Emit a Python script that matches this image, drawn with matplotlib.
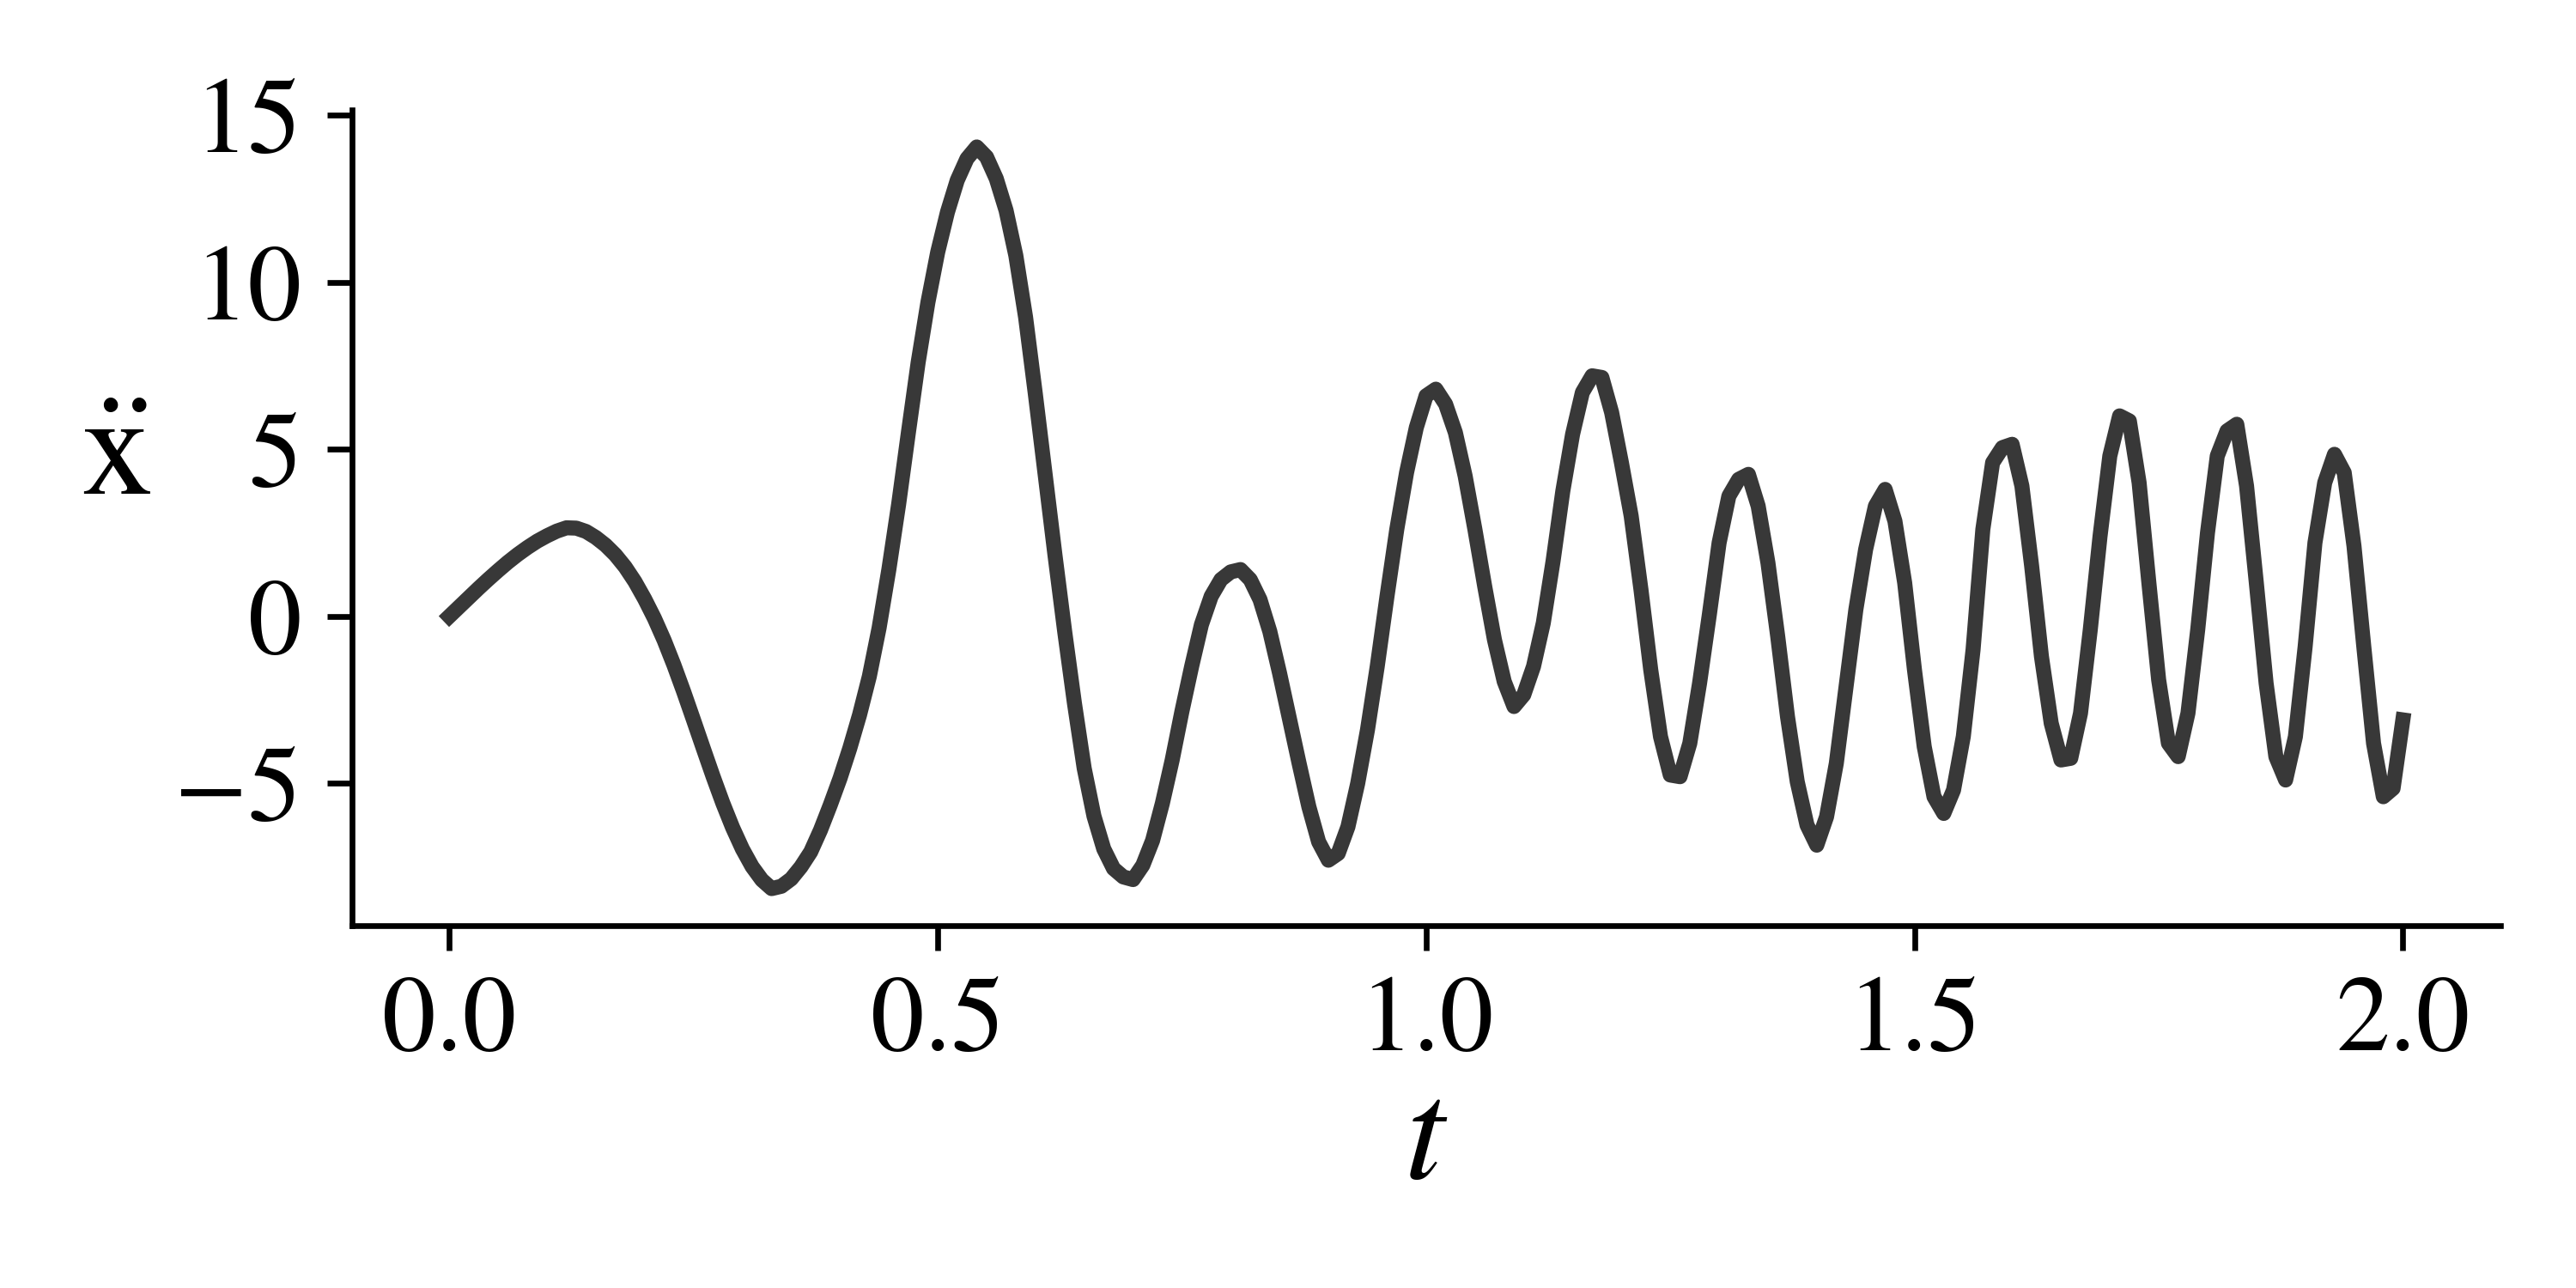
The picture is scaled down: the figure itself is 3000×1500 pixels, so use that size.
import matplotlib
matplotlib.use("Agg")
import matplotlib.pyplot as plt
import numpy as np

# sample spacing of the signal (s)
T_STEP = 0.01

# acceleration samples, t = 0.00 ... 0.49
xdd_a = [0.0, 0.28, 0.56, 0.84, 1.11, 1.37, 1.62, 1.85, 2.06, 2.25,
         2.41, 2.55, 2.65, 2.64, 2.54, 2.36, 2.13, 1.84, 1.48, 1.04,
         0.52, -0.06, -0.72, -1.46, -2.26, -3.1, -3.95, -4.79, -5.59, -6.32,
         -6.96, -7.49, -7.89, -8.15, -8.08, -7.86, -7.5, -7.05, -6.4, -5.65,
         -4.85, -3.95, -2.95, -1.8, -0.35, 1.4, 3.35, 5.5, 7.6, 9.4]
# t = 0.50 ... 0.99
xdd_b = [10.9, 12.1, 13.05, 13.7, 14.05, 13.75, 13.1, 12.15, 10.8, 8.95,
         6.65, 4.25, 1.85, -0.45, -2.6, -4.55, -5.98, -6.96, -7.55, -7.8,
         -7.88, -7.45, -6.71, -5.6, -4.31, -2.85, -1.5, -0.25, 0.6, 1.1,
         1.33, 1.4, 1.1, 0.5, -0.45, -1.7, -3.05, -4.4, -5.7, -6.75,
         -7.3, -7.1, -6.3, -5.0, -3.4, -1.5, 0.6, 2.6, 4.3, 5.65]
# t = 1.00 ... 1.49
xdd_c = [6.6, 6.8, 6.35, 5.5, 4.2, 2.6, 0.9, -0.7, -1.95, -2.7,
         -2.35, -1.5, -0.2, 1.65, 3.75, 5.45, 6.7, 7.2, 7.15, 6.1,
         4.6, 3.0, 0.8, -1.6, -3.6, -4.75, -4.8, -3.8, -2.0, 0.05,
         2.2, 3.6, 4.1, 4.25, 3.3, 1.6, -0.6, -3.0, -4.95, -6.25,
         -6.85, -6.0, -4.4, -2.1, 0.2, 2.0, 3.3, 3.8, 2.85, 1.0]
# t = 1.50 ... 2.00
xdd_d = [-1.6, -3.9, -5.4, -5.9, -5.2, -3.6, -1.0, 2.6, 4.6, 5.05,
         5.15, 3.9, 1.5, -1.2, -3.2, -4.3, -4.25, -2.9, -0.4, 2.4,
         4.8, 6.0, 5.85, 4.0, 1.0, -1.9, -3.8, -4.2, -2.9, -0.4,
         2.5, 4.8, 5.55, 5.75, 3.9, 1.0, -2.0, -4.2, -4.9, -3.6,
         -0.9, 2.2, 4.0, 4.85, 4.3, 2.1, -0.9, -3.8, -5.4, -5.15,
         -3.1]

x_ticks = [0.0, 0.5, 1.0, 1.5, 2.0]
y_ticks = [-5, 0, 5, 10, 15]

xdd = np.array(xdd_a + xdd_b + xdd_c + xdd_d)
t = np.arange(len(xdd)) * T_STEP

plt.rcParams["font.family"] = "STIXGeneral"
plt.rcParams["mathtext.fontset"] = "stix"

fig = plt.figure(figsize=(5, 2.5), dpi=600)
ax = fig.add_axes([0.1365, 0.2813, 0.8342, 0.6334])
ax.plot(t, xdd, color="#383838", lw=2.1)

for s in ("top", "right"):
    ax.spines[s].set_visible(False)
for s in ("left", "bottom"):
    ax.spines[s].set_linewidth(0.8)

ax.set_xticks(x_ticks)
ax.set_yticks(y_ticks)
ax.tick_params(labelsize=15, length=3.5, width=0.8, direction="out")

ax.set_xlabel("$t$", fontsize=20, labelpad=1.0)
ax.set_ylabel(r"$\ddot{\mathrm{x}}$", fontsize=20, rotation=0,
              ha="center", va="center")
ax.yaxis.set_label_coords(-0.1097, 0.570)

fig.savefig("out.png", dpi=600)
